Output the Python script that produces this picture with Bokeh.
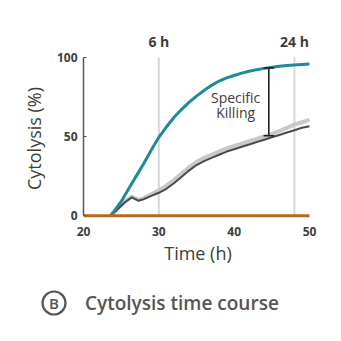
from bokeh.plotting import figure
from bokeh.models import LinearAxis, FixedTicker, Range1d, Label, Div
from bokeh.layouts import column
from bokeh.embed import file_html
from bokeh.resources import INLINE

# ---- data ----
time_h = [23.6, 24, 25, 26, 27, 28, 29, 30, 31, 32, 33, 34, 35, 36, 37, 38, 39, 40,
          41, 42, 43, 44, 45, 46, 47, 48, 49, 50]
cytolysis_target = [0, 2.5, 9, 17, 25, 33, 41.5, 49.5, 56, 62, 67, 71.5, 75.5, 79, 82.3,
                    85, 87, 88.5, 90, 91.2, 92.2, 93, 93.7, 94.3, 94.8, 95.2, 95.5, 95.8]

gray_time = [23.6, 24.5, 25.5, 26.4, 27.3, 28, 29, 30, 31, 32, 33, 34, 35, 36, 37, 38,
             39, 40, 41, 42, 43, 44, 45, 46, 47, 48, 49, 50]
control_dark = [0, 4, 8.5, 11.6, 9.5, 10.5, 12.5, 14.5, 17, 20.5, 24.5, 28.5, 32, 34.5,
                36.5, 38.5, 40.5, 42, 43.5, 45, 46.5, 48, 49.5, 51, 52.5, 54, 55.5, 56.5]
control_light = [0, 4.5, 9, 12, 10, 11, 13.5, 16, 19, 22.5, 26.5, 30.5, 34, 36.5, 38.5,
                 40.5, 42.5, 44, 45.5, 47, 48.5, 50, 51.5, 53.5, 55.5, 57.5, 59, 60.5]

baseline_time = [20, 50]
baseline_val = [0, 0]

marker_times = [30, 48]
marker_labels = ["6 h", "24 h"]

x_ticks = [20, 30, 40, 50]
y_ticks = [0, 50, 100]

killing_x = 44.6
killing_top = 93.3
killing_bottom = 50.5

caption_badge = "B"
caption_text = "Cytolysis time course"

TXT = "#3d3d3d"
CAP = "#555555"
FONT = "Open Sans"

p = figure(width=341, height=270, output_backend="svg", toolbar_location=None,
           x_range=Range1d(20, 50.4), y_range=Range1d(-3, 100.5),
           min_border_left=83, min_border_right=29, min_border_top=56,
           min_border_bottom=50, x_axis_location=None, y_axis_location=None)
p.outline_line_color = None
p.grid.visible = False
p.background_fill_color = "white"
p.border_fill_color = "white"

# gridlines at 6 h and 24 h
p.segment(x0=marker_times, y0=[0, 0], x1=marker_times, y1=[100, 100],
          line_color="#d8d8d8", line_width=2)

# curves
p.line(gray_time, control_light, line_color="#c8c8c8", line_width=4)
p.line(gray_time, control_dark, line_color="#4a4a4a", line_width=2)
p.line(time_h, cytolysis_target, line_color="#1f8b98", line_width=3)
p.line(baseline_time, baseline_val, line_color="#b5681f", line_width=3)

# specific killing bracket
p.segment(x0=[killing_x], y0=[killing_bottom], x1=[killing_x], y1=[killing_top],
          line_color="#222222", line_width=1.6)
p.segment(x0=[killing_x - 0.7, killing_x - 0.7], y0=[killing_top, killing_bottom],
          x1=[killing_x + 0.7, killing_x + 0.7], y1=[killing_top, killing_bottom],
          line_color="#222222", line_width=1.6)
p.add_layout(Label(x=40.2, y=74.7, text="Specific", text_font=FONT, text_font_size="14px",
                   text_color=TXT, text_align="center", text_baseline="middle"))
p.add_layout(Label(x=40.2, y=65, text="Killing", text_font=FONT, text_font_size="14px",
                   text_color=TXT, text_align="center", text_baseline="middle"))

# axes
yax = LinearAxis(ticker=FixedTicker(ticks=y_ticks), bounds=(0, 100))
yax.axis_line_color = "#555555"
yax.axis_line_width = 1.5
yax.major_tick_in = 3
yax.major_tick_out = 0
yax.major_tick_line_color = "#555555"
yax.minor_tick_line_color = None
yax.major_label_text_font = FONT
yax.major_label_text_font_size = "12px"
yax.major_label_text_font_style = "bold"
yax.major_label_text_color = TXT
yax.major_label_standoff = 6
yax.axis_label = "Cytolysis (%)"
yax.axis_label_text_font = FONT
yax.axis_label_text_font_size = "18px"
yax.axis_label_text_font_style = "normal"
yax.axis_label_text_color = TXT
yax.axis_label_standoff = 8
p.add_layout(yax, "left")

xax = LinearAxis(ticker=FixedTicker(ticks=x_ticks))
xax.axis_line_color = None
xax.major_tick_line_color = None
xax.minor_tick_line_color = None
xax.major_label_text_font = FONT
xax.major_label_text_font_size = "12px"
xax.major_label_text_font_style = "bold"
xax.major_label_text_color = TXT
xax.major_label_standoff = 0
xax.axis_label = "Time (h)"
xax.axis_label_text_font = FONT
xax.axis_label_text_font_size = "18px"
xax.axis_label_text_font_style = "normal"
xax.axis_label_text_color = TXT
xax.axis_label_standoff = 2
p.add_layout(xax, "below")

tax = LinearAxis(ticker=FixedTicker(ticks=marker_times),
                 major_label_overrides={t: l for t, l in zip(marker_times, marker_labels)})
tax.axis_line_color = None
tax.major_tick_line_color = None
tax.minor_tick_line_color = None
tax.major_label_text_font = FONT
tax.major_label_text_font_size = "14px"
tax.major_label_text_font_style = "bold"
tax.major_label_text_color = TXT
tax.major_label_standoff = 0
p.add_layout(tax, "above")

# caption strip
caption_html = (
    '<div style="position:relative;width:341px;height:71px;font-family:\'Open Sans\';'
    'color:%s;background:white;">'
    '<svg style="position:absolute;left:41px;top:20px;width:26px;height:26px;" '
    'width="26" height="26" viewBox="0 0 26 26">'
    '<circle cx="13" cy="13" r="11.5" fill="none" stroke="%s" stroke-width="2.2"/>'
    '<text x="13" y="18.5" text-anchor="middle" font-family="Open Sans" '
    'font-size="15" font-weight="600" fill="%s">%s</text></svg>'
    '<div style="position:absolute;left:85px;top:21px;line-height:24px;'
    'font-size:19px;font-weight:600;white-space:nowrap;">%s</div>'
    '</div>' % (CAP, CAP, CAP, caption_badge, caption_text)
)
c = Div(text=caption_html, width=341, height=71, margin=0)

layout = column(p, c, spacing=0)
open("out.html", "w").write(file_html(layout, INLINE))
